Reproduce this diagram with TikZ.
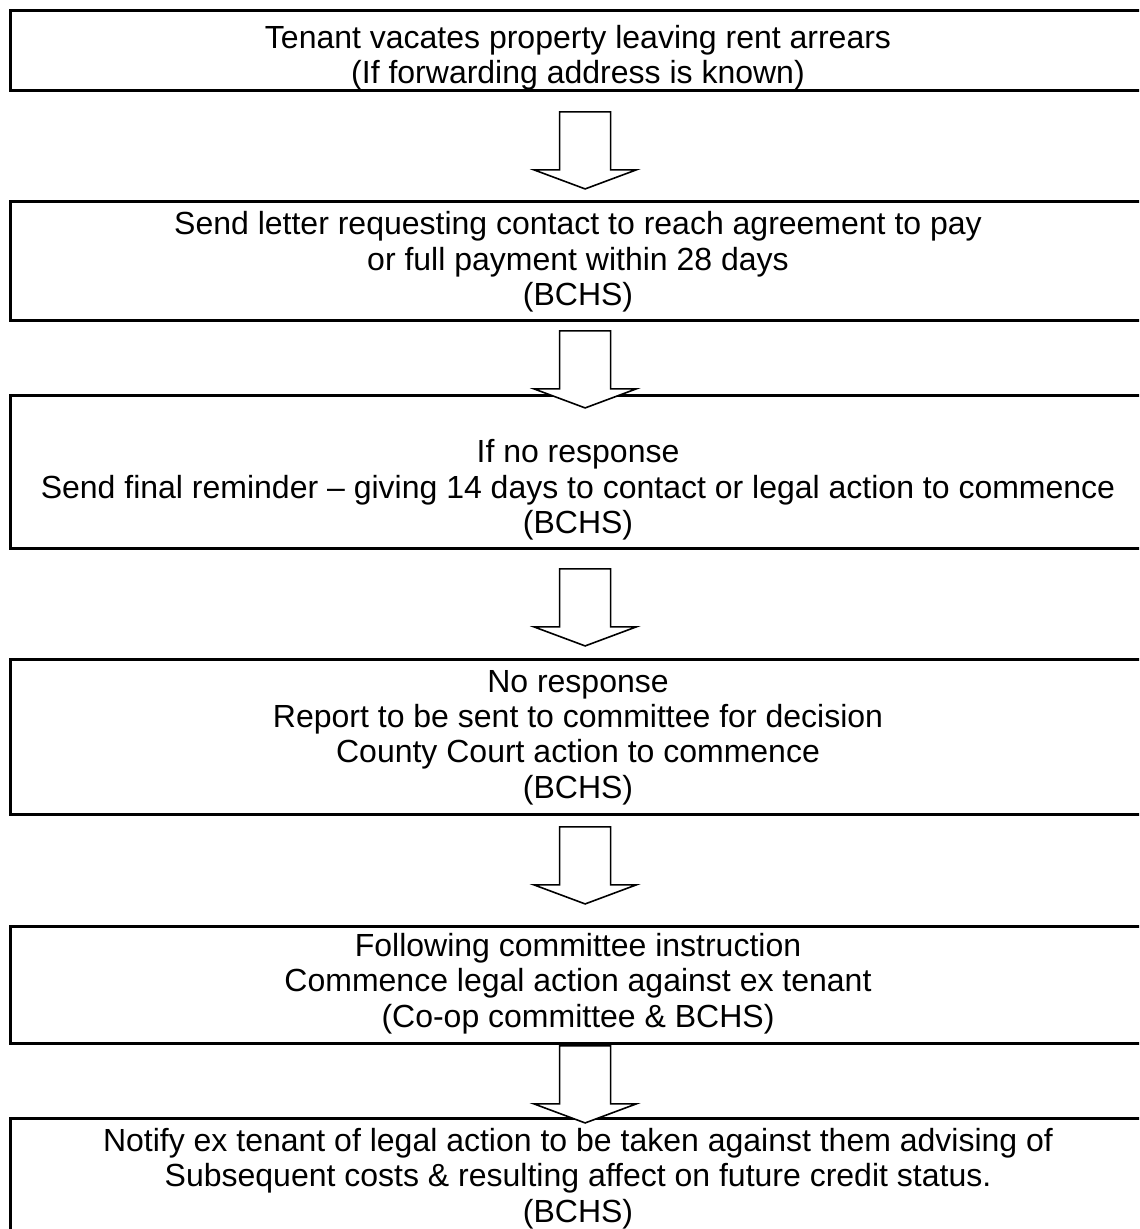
\documentclass[tikz,border=0pt]{standalone}
\usepackage{fontspec}
\setmainfont{Liberation Sans}
\usetikzlibrary{calc,positioning}
\tikzset
{
    stepbox/.style   = {rectangle, draw=black, line width=1.1pt, anchor=north west, inner sep=0pt, minimum width=431pt, minimum height=#1*0.375pt},
    steptext/.style  = {align=center, inner sep=0pt, font=\fontsize{12}{13.3}\selectfont},
    blockarrow/.style = {draw=black, fill=white, line width=0.6pt, line join=miter}
}
\newcommand{\blockarrow}[2]{%
  \draw[blockarrow] ($(#1.south)+(-25.5,#2)$) -- ++(0,58) -- ++(-25.5,0) -- ++(51,19) -- ++(51,-19) -- ++(-25.5,0) -- ++(0,-58) -- cycle;
}

\begin{document}
\begin{tikzpicture}[x=0.375pt, y=-0.375pt]
\useasboundingbox (0,0) rectangle (1139,1229);
\clip (0,0) rectangle (1139,1229);
\fill[white] (0,0) rectangle (1139,1229);
\node [stepbox=80] at (9,9) (b1) {};
\node [stepbox=119] at (9,200) (b2) {};
\node [stepbox=153] at (9,394) (b3) {};
\node [stepbox=155] at (9,658) (b4) {};
\node [stepbox=117] at (9,925) (b5) {};
\node [stepbox=160] at (9,1117) (b6) {};
\node [steptext] at (578,58) (t1) {Tenant vacates property leaving rent arrears\\(If forwarding address is known)};
\node [steptext] at (578,262) (t2) {Send letter requesting contact to reach agreement to pay\\or full payment within 28 days\\(BCHS)};
\node [steptext] at (578,490) (t3) {If no response\\Send final reminder – giving 14 days to contact or legal action to commence\\(BCHS)};
\node [steptext] at (578,737.5) (t4) {No response\\Report to be sent to committee for decision\\County Court action to commence\\(BCHS)};
\node [steptext] at (578,983.5) (t5) {Following committee instruction\\Commence legal action against ex tenant\\(Co-op committee \& BCHS)};
\node [steptext] at (578,1178.5) (t6) {Notify ex tenant of legal action to be taken against them advising of\\Subsequent costs \& resulting affect on future credit status.\\(BCHS)};
\blockarrow{b1}{20}
\blockarrow{b2}{9}
\blockarrow{b3}{19}
\blockarrow{b4}{11}
\blockarrow{b5}{1}
\end{tikzpicture}
\end{document}
